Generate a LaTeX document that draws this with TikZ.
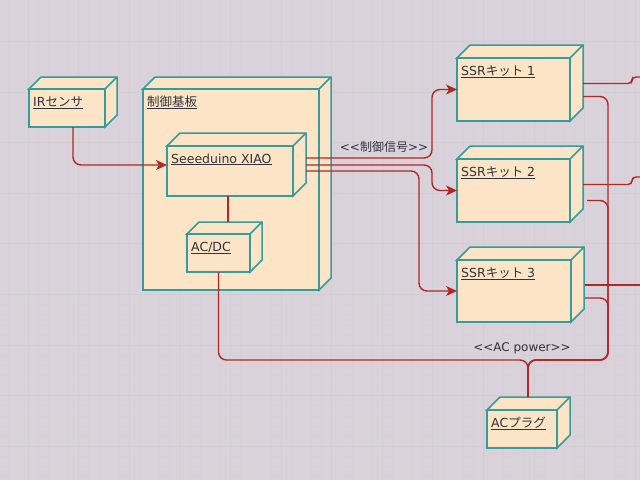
\documentclass[tikz,border=0pt]{standalone}
\usepackage{fontspec}
\setmainfont{DejaVu Sans}[Ligatures=TeXOff]
\newfontfamily\jp{Noto Sans CJK JP}[Ligatures=TeXOff]
\usetikzlibrary{arrows.meta}
\definecolor{bgc}{RGB}{218,210,218}
\definecolor{gridmaj}{RGB}{210,207,210}
\definecolor{gridmin}{RGB}{215,208,215}
\definecolor{boxfill}{RGB}{252,229,198}
\definecolor{boxline}{RGB}{52,156,156}
\definecolor{linec}{RGB}{178,38,38}
\definecolor{txtc}{RGB}{50,50,58}
\newcommand{\dbox}[7]{% name, x1, y1, x2, y2, depth, label
  \filldraw[boxpoly] (#2,#3) -- ({#2+#6},{#3-#6}) -- ({#4+#6},{#3-#6}) -- ({#4+#6},{#5-#6}) -- (#4,#5) -- (#4,#3) -- cycle;
  \draw[boxpoly] (#4,#3) -- ({#4+#6},{#3-#6});
  \node[boxface, minimum width={(#4-#2)*1pt}, minimum height={(#5-#3)*1pt}, anchor=north west] (#1) at (#2,#3) {};
  \node[boxlbl] (#1-l) at ({#2+4},{#3+17}) {\underline{#7}};
}
\begin{document}
\begin{tikzpicture}[x=1pt,y=-1pt,
  boxpoly/.style={fill=boxfill, draw=boxline, line width=1.5pt, line join=miter},
  boxface/.style={rectangle, fill=boxfill, draw=boxline, line width=1.5pt, inner sep=0pt, outer sep=0pt},
  boxlbl/.style={anchor=base west, inner sep=0pt, text=txtc, font=\fontsize{12.5}{14}\selectfont},
  conn/.style={draw=linec, line width=1.4pt, rounded corners=8pt},
  arr/.style={conn, -{Stealth[length=11pt,width=10pt,inset=3pt]}},
  stereo/.style={inner sep=0pt, text=txtc, font=\fontsize{12}{14}\selectfont}
]
\useasboundingbox (0,0) rectangle (640,480);
\fill[bgc] (0,0) rectangle (640,480);
\foreach \i in {-3,...,63} {
  \draw[gridmin, line width=0.5pt] ({28+\i*10.12},0) -- ({28+\i*10.12},480);
}
\foreach \i in {-4,...,48} {
  \draw[gridmin, line width=0.5pt] (0,{345+\i*10.12}) -- (640,{345+\i*10.12});
}
\foreach \i in {0,...,12} {
  \draw[gridmaj, line width=0.8pt] ({28+\i*50.6},0) -- ({28+\i*50.6},480);
}
\foreach \i in {-7,...,2} {
  \draw[gridmaj, line width=0.8pt] (0,{345+\i*50.6}) -- (640,{345+\i*50.6});
}

% nodes
\dbox{ir}{29}{89}{105}{127}{12}{IR{\jp センサ}}
\dbox{board}{143}{89}{319}{290}{12}{{\jp 制御基板}}
\dbox{xiao}{167}{146}{293}{196}{13}{Seeeduino XIAO}
\dbox{acdc}{187}{234}{250}{272}{12}{AC/DC}
\dbox{ssr1}{457}{58}{570}{121}{13}{SSR{\jp キット} 1}
\dbox{ssr2}{457}{159}{570}{222}{13}{SSR{\jp キット} 2}
\dbox{ssr3}{457}{260}{571}{322}{13}{SSR{\jp キット} 3}
\dbox{plug}{487}{410}{557}{448}{13}{AC{\jp プラグ}}

\coordinate (plugtop) at ([xshift=6pt,yshift=13pt]plug.north);
\coordinate (acdctop) at (228,222);
\coordinate (bus) at (608,360);
\coordinate (out1) at (648,77);
\coordinate (out2) at (648,177);
\coordinate (out3) at (648,285);

% IR -> XIAO
\draw[arr] ([xshift=6pt]ir.south) |- ([yshift=6pt]xiao.west);

% XIAO -> SSRs
\draw[arr] ([xshift=13pt,yshift=13pt]xiao.east) -| ([xshift=-25pt]ssr1.west) -- (ssr1.west);
\draw[arr] ([xshift=13pt,yshift=6pt]xiao.east) -| ([xshift=-25pt]ssr2.west) -- (ssr2.west);
\draw[arr] ([xshift=13pt]xiao.east) -| ([xshift=-38pt]ssr3.west) -- (ssr3.west);
\node[stereo] (sig) at (384,147) {<<{\jp 制御信号}>>};

% XIAO -- AC/DC
\draw[conn] ([xshift=-2pt]xiao.south) -- (acdctop);

% AC power
\draw[conn] (acdc.south) |- (bus -| plugtop) -- (plugtop);
\draw[conn] ([xshift=13pt,yshift=-7pt]ssr1.east) -| (bus) -| (plugtop);
\draw[conn] ([xshift=17pt,yshift=-10pt]ssr2.east) -| (bus) -| (plugtop);
\draw[conn] ([xshift=14pt,yshift=-7pt]ssr3.east) -| (bus) -| (plugtop);
\node[stereo] (acp) at (522,348) {<<AC power>>};

% outputs to the right
\draw[conn, rounded corners=4pt] ([xshift=13pt,yshift=6pt]ssr1.east) -- ++(49,0) |- (out1);
\draw[conn, rounded corners=4pt] ([xshift=13pt,yshift=6pt]ssr2.east) -- ++(49,0) |- (out2);
\draw[conn] ([xshift=14pt,yshift=6pt]ssr3.east) -- (out3);
\end{tikzpicture}
\end{document}
